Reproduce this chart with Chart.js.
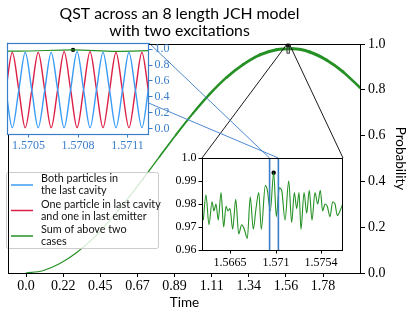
<!DOCTYPE html>
<html>
<head>
<meta charset="utf-8">
<script src="https://cdn.jsdelivr.net/npm/chart.js@4"></script>
<style>
  body { margin: 0; background: #fff; }
  #wrap { position: relative; width: 415px; height: 319px; }
  canvas { position: absolute; }
</style>
</head>
<body>
<div id="wrap">
  <canvas id="main" width="415" height="319" style="left:0;top:0"></canvas>
  <canvas id="zoomB" width="190" height="135" style="left:160px;top:140px"></canvas>
  <canvas id="zoomA" width="200" height="155" style="left:0;top:0"></canvas>
</div>
<script>
// main curve: sum of both cases over the whole run
const mainTime = [0, 0.1, 0.2, 0.3, 0.4, 0.5, 0.6, 0.7, 0.8, 0.9, 1.0, 1.1, 1.2, 1.3, 1.4, 1.5, 1.6, 1.7, 1.8, 1.9, 2.0];
const mainProb = [0, 0.01, 0.04, 0.087, 0.15, 0.228, 0.316, 0.41, 0.508, 0.605, 0.697, 0.781, 0.853, 0.91, 0.952, 0.975, 0.979, 0.965, 0.93, 0.878, 0.81];
const mainXTicks = [0, 0.2225, 0.445, 0.6675, 0.89, 1.1125, 1.335, 1.5575, 1.78];
const mainXTickLabels = ['0.0', '0.22', '0.45', '0.67', '0.89', '1.11', '1.34', '1.56', '1.78'];

// lower right inset: sum near the peak
const zoomBTime = [1.56389, 1.56415, 1.56444, 1.56474, 1.56493, 1.56513, 1.56535, 1.56562, 1.56588, 1.56611,
  1.56630, 1.56650, 1.56676, 1.56706, 1.56735, 1.56764, 1.56790, 1.56819, 1.56848, 1.56878,
  1.56904, 1.56931, 1.56956, 1.56995, 1.57015, 1.57044, 1.57077, 1.57103, 1.57132, 1.57155,
  1.57188, 1.57224, 1.57253, 1.57279, 1.57302, 1.57325, 1.57344, 1.57374, 1.57400, 1.57425,
  1.57452, 1.57481, 1.57508, 1.57533, 1.57556, 1.57579, 1.57601, 1.57628, 1.57654, 1.57677,
  1.57699, 1.57726, 1.57752];
const zoomBSum = [0.973, 0.984, 0.971, 0.981, 0.977, 0.980, 0.973, 0.985, 0.970, 0.979,
  0.977, 0.978, 0.969, 0.982, 0.967, 0.971, 0.969, 0.965, 0.983, 0.969,
  0.978, 0.985, 0.969, 0.988, 0.986, 0.977, 0.9936, 0.9745, 0.987, 0.986,
  0.973, 0.990, 0.972, 0.985, 0.978, 0.985, 0.969, 0.985, 0.976, 0.986,
  0.973, 0.985, 0.980, 0.986, 0.977, 0.980, 0.979, 0.9745, 0.981, 0.980,
  0.975, 0.977, 0.980];
const zoomBRange = [1.56376, 1.57755];
const zoomBYRange = [0.96, 1.0];
const zoomBXTicks = [1.5665, 1.5710, 1.5754];
const zoomBXTickLabels = ['1.5665', '1.571', '1.5754'];
const zoomBYTicks = [0.96, 0.97, 0.98, 0.99, 1.0];
const zoomBYTickLabels = ['0.96', '0.97', '0.98', '0.99', '1.0'];

// upper left inset: the two cases separately
const zoomATime = [1.5703628, 1.5704020, 1.5704413, 1.5704805, 1.5705198, 1.5705590, 1.5705983, 1.5706375,
  1.5706768, 1.5707160, 1.5707553, 1.5707945, 1.5708338, 1.5708730, 1.5709123, 1.5709515,
  1.5709908, 1.5710300, 1.5710693, 1.5711085, 1.5711478, 1.5711870, 1.5712263, 1.5712655];
const bothCavity = [0.49, 0.01, 0.48, 0.96, 0.49, 0.01, 0.48, 0.96, 0.49, 0.01, 0.49, 0.97,
  0.49, 0.01, 0.49, 0.96, 0.49, 0.01, 0.48, 0.96, 0.48, 0.01, 0.49, 0.96];
const cavityEmitter = [0.48, 0.96, 0.49, 0.01, 0.48, 0.96, 0.49, 0.01, 0.49, 0.97, 0.49, 0.01,
  0.49, 0.97, 0.49, 0.01, 0.48, 0.96, 0.48, 0.01, 0.48, 0.96, 0.48, 0.01];
const zoomARange = [1.57037, 1.57123];
const zoomAXTicks = [1.5705, 1.5708, 1.5711];
const zoomAXTickLabels = ['1.5705', '1.5708', '1.5711'];

const peakTime = 1.57077;
const peakProb = 0.9936;

const legendLabels = [['Both particles in', 'the last cavity'],
  ['One particle in last cavity', 'and one in last emitter'],
  ['Sum of above two', 'cases']];

const BLUE = '#3a9cf5';
const RED = '#dc1f45';
const GREEN = '#259125';
const FRAME_BLUE = '#3a7dc9';
const SERIF = 'Liberation Serif';
const SANS = 'Lato';

// canvas offsets of the insets (must match the style attributes)
const zoomAPos = {left: 0, top: 0};
const zoomBPos = {left: 160, top: 140};

const framePlugin = {
  id: 'frame',
  beforeDraw(chart, args, opts) {
    const a = chart.chartArea, ctx = chart.ctx;
    ctx.save();
    ctx.fillStyle = '#fff';
    ctx.fillRect(a.left, a.top, a.right - a.left, a.bottom - a.top);
    ctx.restore();
  },
  afterDraw(chart, args, opts) {
    const a = chart.chartArea, ctx = chart.ctx;
    ctx.save();
    ctx.strokeStyle = opts.color || '#000';
    ctx.lineWidth = opts.width || 1;
    ctx.strokeRect(a.left + 0.5, a.top + 0.5, a.right - a.left - 1, a.bottom - a.top);
    ctx.restore();
  }
};

function fixedTicks(values) {
  return s => { s.ticks = values.map(v => ({value: v})); };
}

function line(xs, ys, color, width) {
  return {
    data: xs.map((x, i) => ({x: x, y: ys[i]})),
    borderColor: color, borderWidth: width, pointRadius: 0,
    cubicInterpolationMode: 'monotone', fill: false
  };
}

const peakDot = {
  type: 'scatter', data: [{x: peakTime, y: peakProb}],
  pointRadius: 2.2, backgroundColor: '#000', borderWidth: 0
};

// upper left inset
const insetA = new Chart(document.getElementById('zoomA'), {
  type: 'line',
  data: {
    datasets: [
      line(zoomATime, bothCavity, BLUE, 1.4),
      line(zoomATime, cavityEmitter, RED, 1.4),
      line(zoomBTime, zoomBSum, GREEN, 1.2),
      peakDot
    ]
  },
  options: {
    responsive: false, animation: false, devicePixelRatio: 1,
    layout: {padding: {left: 7, top: 43, right: 0, bottom: 0}},
    plugins: {legend: {display: false}, tooltip: {enabled: false}, frame: {color: FRAME_BLUE, width: 1.2}},
    scales: {
      x: {
        type: 'linear', min: zoomARange[0], max: zoomARange[1],
        afterFit: s => { s.height = 21; },
        afterBuildTicks: fixedTicks(zoomAXTicks),
        ticks: {callback: (v, i) => zoomAXTickLabels[i], color: FRAME_BLUE, font: {family: SERIF, size: 12}, padding: 1, maxRotation: 0, autoSkip: false},
        grid: {drawOnChartArea: false, tickLength: 3.5, color: FRAME_BLUE},
        border: {display: false}
      },
      y: {
        position: 'right', min: -0.07, max: 1.08,
        afterFit: s => { s.width = 51; },
        afterBuildTicks: fixedTicks([0, 0.2, 0.4, 0.6, 0.8, 1.0]),
        ticks: {callback: v => v.toFixed(1), color: FRAME_BLUE, font: {family: SERIF, size: 12}, padding: 2},
        grid: {drawOnChartArea: false, tickLength: 3.5, color: FRAME_BLUE},
        border: {display: false}
      }
    }
  },
  plugins: [framePlugin]
});

// lower right inset
const insetB = new Chart(document.getElementById('zoomB'), {
  type: 'line',
  data: {
    datasets: [line(zoomBTime, zoomBSum, GREEN, 1.1), peakDot]
  },
  options: {
    responsive: false, animation: false, devicePixelRatio: 1,
    layout: {padding: {left: 0, top: 18, right: 7, bottom: 0}},
    plugins: {legend: {display: false}, tooltip: {enabled: false}, frame: {color: '#000', width: 1}},
    scales: {
      x: {
        type: 'linear', min: zoomBRange[0], max: zoomBRange[1],
        afterFit: s => { s.height = 25; },
        afterBuildTicks: fixedTicks(zoomBXTicks),
        ticks: {callback: (v, i) => zoomBXTickLabels[i], color: '#000', font: {family: SERIF, size: 12}, padding: 2, maxRotation: 0, autoSkip: false},
        grid: {drawOnChartArea: false, tickLength: 3.5, color: '#000'},
        border: {display: false}
      },
      y: {
        position: 'left', min: zoomBYRange[0], max: zoomBYRange[1],
        afterFit: s => { s.width = 42; },
        afterBuildTicks: fixedTicks(zoomBYTicks),
        ticks: {callback: (v, i) => zoomBYTickLabels[i], color: '#000', font: {family: SERIF, size: 12}, padding: 2},
        grid: {drawOnChartArea: false, tickLength: 3.5, color: '#000'},
        border: {display: false}
      }
    }
  },
  plugins: [framePlugin, {
    id: 'zoomMark',
    afterDatasetsDraw(chart) {
      // where the upper left inset sits inside this one
      const ctx = chart.ctx, a = chart.chartArea, xs = chart.scales.x;
      ctx.save();
      ctx.strokeStyle = FRAME_BLUE;
      ctx.lineWidth = 1.6;
      zoomARange.forEach(v => {
        const px = xs.getPixelForValue(v);
        ctx.beginPath();
        ctx.moveTo(px, a.top);
        ctx.lineTo(px, a.bottom);
        ctx.stroke();
      });
      ctx.restore();
    }
  }]
});

const overlayPlugin = {
  id: 'overlay',
  afterDatasetsDraw(chart) {
    const ctx = chart.ctx, xs = chart.scales.x, ys = chart.scales.y;
    ctx.save();
    // marked region on the main curve
    const rx0 = xs.getPixelForValue(zoomBRange[0]), rx1 = xs.getPixelForValue(zoomBRange[1]);
    const ry0 = ys.getPixelForValue(zoomBYRange[1]), ry1 = ys.getPixelForValue(zoomBYRange[0]);
    ctx.strokeStyle = '#333';
    ctx.lineWidth = 1;
    ctx.strokeRect(rx0, ry0, rx1 - rx0, ry1 - ry0);
    // connectors to the lower right inset
    const bA = insetB.chartArea;
    ctx.strokeStyle = '#000';
    ctx.lineWidth = 0.9;
    ctx.beginPath();
    ctx.moveTo(rx0, ry0);
    ctx.lineTo(zoomBPos.left + bA.left, zoomBPos.top + bA.top);
    ctx.moveTo(rx1, ry0);
    ctx.lineTo(zoomBPos.left + bA.right, zoomBPos.top + bA.top);
    ctx.stroke();
    // connectors from the lower inset to the upper left inset
    const aA = insetA.chartArea;
    const bx0 = zoomBPos.left + insetB.scales.x.getPixelForValue(zoomARange[0]);
    const bx1 = zoomBPos.left + insetB.scales.x.getPixelForValue(zoomARange[1]);
    ctx.strokeStyle = FRAME_BLUE;
    ctx.beginPath();
    ctx.moveTo(bx0, zoomBPos.top + bA.top);
    ctx.lineTo(zoomAPos.left + aA.right, zoomAPos.top + aA.top);
    ctx.moveTo(bx1, zoomBPos.top + bA.top);
    ctx.lineTo(zoomAPos.left + aA.left, zoomAPos.top + aA.top);
    ctx.stroke();

    // legend
    const lx = 6, ly = 172, lw = 152, lh = 76;
    ctx.fillStyle = 'rgba(255,255,255,0.8)';
    ctx.strokeStyle = '#cccccc';
    ctx.lineWidth = 1;
    ctx.beginPath();
    ctx.roundRect(lx + 0.5, ly + 0.5, lw, lh, 2);
    ctx.fill();
    ctx.stroke();
    const colors = [BLUE, RED, GREEN];
    ctx.font = '10.8px ' + SANS;
    ctx.textBaseline = 'middle';
    legendLabels.forEach((lines, i) => {
      const cy = ly + 13 + i * 25.5;
      ctx.strokeStyle = colors[i];
      ctx.lineWidth = 1.5;
      ctx.beginPath();
      ctx.moveTo(lx + 5, cy);
      ctx.lineTo(lx + 27, cy);
      ctx.stroke();
      ctx.fillStyle = '#111';
      ctx.fillText(lines[0], lx + 35, cy - 6);
      ctx.fillText(lines[1], lx + 35, cy + 6);
    });
    ctx.restore();
  },
  afterDraw(chart) {
    const ctx = chart.ctx, a = chart.chartArea;
    ctx.save();
    ctx.fillStyle = '#000';
    ctx.font = '15.8px ' + SANS;
    ctx.textAlign = 'center';
    ctx.textBaseline = 'middle';
    const cx = (a.left + a.right) / 2 - 5;
    ctx.fillText('QST across an 8 length JCH model', cx, 14);
    ctx.fillText('with two excitations', cx, 31);
    ctx.restore();
  }
};

const mainCurve = line(mainTime, mainProb, GREEN, 1.3);
mainCurve.borderCapStyle = 'round';
mainCurve.segment = {
  borderWidth: c => 1.2 + 3.2 * Math.max(0, (c.p0.parsed.y + c.p1.parsed.y) / 2 - 0.4)
};

new Chart(document.getElementById('main'), {
  type: 'line',
  data: {datasets: [mainCurve, peakDot]},
  options: {
    responsive: false, animation: false, devicePixelRatio: 1,
    layout: {padding: {left: 8, top: 44, right: 0, bottom: 0}},
    plugins: {legend: {display: false}, tooltip: {enabled: false}, frame: {color: '#000', width: 1}},
    scales: {
      x: {
        type: 'linear', min: -0.108, max: 2.007,
        afterFit: s => { s.height = 46; },
        afterBuildTicks: fixedTicks(mainXTicks),
        ticks: {callback: (v, i) => mainXTickLabels[i], color: '#000', font: {family: SERIF, size: 14}, padding: 1, maxRotation: 0, autoSkip: false},
        grid: {drawOnChartArea: false, tickLength: 4, color: '#000'},
        border: {display: false},
        title: {display: true, text: 'Time', color: '#000', font: {family: SANS, size: 13.5}, padding: {top: 0, bottom: 8}}
      },
      y: {
        position: 'right', min: 0, max: 1,
        afterFit: s => { s.width = 54; },
        afterBuildTicks: fixedTicks([0, 0.2, 0.4, 0.6, 0.8, 1.0]),
        ticks: {callback: v => v.toFixed(1), color: '#000', font: {family: SERIF, size: 14}, padding: 3},
        grid: {drawOnChartArea: false, tickLength: 4, color: '#000'},
        border: {display: false},
        title: {display: true, text: 'Probability', color: '#000', font: {family: SANS, size: 13.5}, padding: {top: 7, bottom: 0}}
      }
    }
  },
  plugins: [framePlugin, overlayPlugin]
});
</script>
</body>
</html>
